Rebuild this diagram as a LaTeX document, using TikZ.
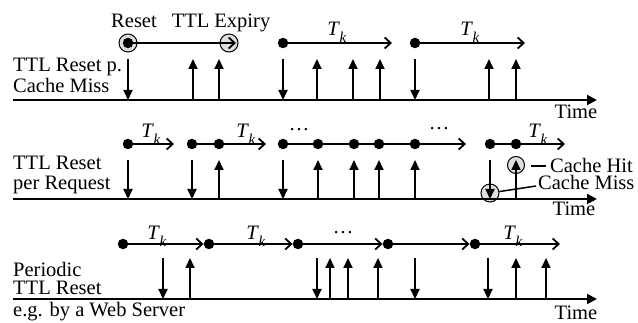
\documentclass[tikz,border=0pt]{standalone}
\usepackage{fontspec}
\setmainfont{Liberation Serif}
\usetikzlibrary{arrows.meta,calc}
\newcommand\Tk{\textit{T}\kern-0.3pt\raisebox{-0.34em}{\fontsize{15}{15}\selectfont\textit{k}}}
\begin{document}
\begin{tikzpicture}[x=1pt,y=-1pt, font=\fontsize{20.5}{24}\selectfont,
 axis/.style={line width=2pt,-{Triangle[length=10pt,width=10pt]}},
 tick/.style={line width=1.9pt,-{Triangle[length=10pt,width=9pt]}},
 seg/.style={line width=1.8pt,-{Straight Barb[length=6pt,width=11pt,line width=1.8pt]}},
 plain/.style={line width=1.8pt},
 thinl/.style={line width=1.5pt},
 dot/.style={circle,fill=black,inner sep=0pt,minimum size=10.5pt},
 ring/.style={circle,draw=black,fill=gray!25,line width=1pt,inner sep=0pt,minimum size=18pt},
 lbl/.style={inner sep=0pt,anchor=base west},
 clbl/.style={inner sep=0pt,anchor=base},
]
\useasboundingbox (0,0) rectangle (638,323);

% ---------- Row 1 ----------
\node[lbl] (row1a) at (13,72) {TTL Reset p.};
\node[lbl] (row1b) at (13,93) {Cache Miss};
\node[ring] (resetc) at (128,43) {};
\node[dot] (r1d1) at (128,43) {};
\node[ring] (expc) at (229,43) {};
\coordinate (r1e1) at (236,43);
\draw[seg] (r1d1) -- (r1e1);
\node[clbl] (resetlbl) at (134,28) {Reset};
\node[clbl] (explbl) at (221,28) {TTL Expiry};
\node[dot] (r1d2) at (283,43) {};
\coordinate (r1e2) at (392,43);
\draw[seg] (r1d2) -- (r1e2);
\node[clbl] (r1tk1) at (337,36) {\Tk};
\node[dot] (r1d3) at (415,43) {};
\coordinate (r1e3) at (525,43);
\draw[seg] (r1d3) -- (r1e3);
\node[clbl] (r1tk2) at (470,36) {\Tk};
\foreach \x [count=\i] in {128,283,415} {
  \coordinate (r1dt\i) at (\x,59); \coordinate (r1db\i) at (\x,100);
  \draw[tick] (r1dt\i) -- (r1db\i);}
\foreach \x [count=\i] in {193,219,317,353,380,489,516} {
  \coordinate (r1ub\i) at (\x,100); \coordinate (r1ut\i) at (\x,59);
  \draw[tick] (r1ub\i) -- (r1ut\i);}
\coordinate (ax1s) at (13,100); \coordinate (ax1e) at (597,100);
\draw[axis] (ax1s) -- (ax1e);
\node[clbl] (time1) at (576,119) {Time};

% ---------- Row 2 ----------
\node[lbl] (row2a) at (13,170) {TTL Reset};
\node[lbl] (row2b) at (13,190) {per Request};
\node[ring] (missc) at (490,193) {};
\node[ring,minimum size=17pt] (hitc) at (516,165) {};
\node[dot] (r2d1) at (128,144) {};
\coordinate (r2e1) at (174,144);
\draw[seg] (r2d1) -- (r2e1);
\node[clbl] (r2tk1) at (151,138) {\Tk};
\node[dot] (r2d2) at (192,144) {};
\node[dot] (r2d3) at (219,144) {};
\coordinate (r2e2) at (266,144);
\draw[plain] (r2d2) -- (r2d3);
\draw[seg] (r2d3) -- (r2e2);
\node[clbl] (r2tk2) at (246,138) {\Tk};
\node[dot] (r2d4) at (283,144) {};
\node[dot] (r2d5) at (318,144) {};
\node[dot] (r2d6) at (354,144) {};
\node[dot] (r2d7) at (379,144) {};
\node[dot] (r2d8) at (415,144) {};
\coordinate (r2e3) at (466,144);
\draw[plain] (r2d4) -- (r2d5) -- (r2d6) -- (r2d7) -- (r2d8);
\draw[seg] (r2d8) -- (r2e3);
\node[clbl] (r2dots1) at (299,131) {\ldots};
\node[clbl] (r2dots2) at (439,130) {\ldots};
\node[dot] (r2d9) at (490,144) {};
\node[dot] (r2d10) at (516,144) {};
\coordinate (r2e4) at (565,144);
\draw[plain] (r2d9) -- (r2d10);
\draw[seg] (r2d10) -- (r2e4);
\node[clbl] (r2tk3) at (538,138) {\Tk};
\foreach \x [count=\i] in {128,192,283,490} {
  \coordinate (r2dt\i) at (\x,160); \coordinate (r2db\i) at (\x,199);
  \draw[tick] (r2dt\i) -- (r2db\i);}
\foreach \x [count=\i] in {219,318,354,379,415,516} {
  \coordinate (r2ub\i) at (\x,199); \coordinate (r2ut\i) at (\x,160);
  \draw[tick] (r2ub\i) -- (r2ut\i);}
\coordinate (ax2s) at (13,199); \coordinate (ax2e) at (597,199);
\draw[axis] (ax2s) -- (ax2e);
\node[clbl] (time2) at (574,216) {Time};
\node[lbl] (hitlbl) at (550,173) {Cache Hit};
\node[lbl] (misslbl) at (538,190) {Cache Miss};
\coordinate (hitl1) at (531,166); \coordinate (hitl2) at (546,166);
\draw[thinl] (hitl1) -- (hitl2);
\coordinate (missl2) at (536,186);
\draw[thinl] (missc) -- (missl2);

% ---------- Row 3 ----------
\node[lbl] (row3a) at (13,277) {Periodic};
\node[lbl] (row3b) at (13,295) {TTL Reset};
\node[lbl] (row3c) at (13,317) {e.g. by a Web Server};
\node[dot] (r3d1) at (123,244) {};
\node[dot] (r3d2) at (209,244) {};
\node[dot] (r3d3) at (298,244) {};
\node[dot] (r3d4) at (388,244) {};
\node[dot] (r3d5) at (475,244) {};
\coordinate (r3e) at (560,244);
\draw[seg] (r3d1) -- (r3d2);
\draw[seg] (r3d2) -- (r3d3);
\draw[seg] (r3d3) -- (r3d4);
\draw[seg] (r3d4) -- (r3d5);
\draw[seg] (r3d5) -- (r3e);
\node[clbl] (r3tk1) at (157,240) {\Tk};
\node[clbl] (r3tk2) at (256,240) {\Tk};
\node[clbl] (r3tk3) at (513,240) {\Tk};
\node[clbl] (r3dots) at (343,234) {\ldots};
\foreach \x [count=\i] in {163,317,415,488} {
  \coordinate (r3dt\i) at (\x,258); \coordinate (r3db\i) at (\x,299);
  \draw[tick] (r3dt\i) -- (r3db\i);}
\foreach \x [count=\i] in {190,330,348,378,516,546} {
  \coordinate (r3ub\i) at (\x,299); \coordinate (r3ut\i) at (\x,258);
  \draw[tick] (r3ub\i) -- (r3ut\i);}
\coordinate (ax3s) at (13,299); \coordinate (ax3e) at (597,299);
\draw[axis] (ax3s) -- (ax3e);
\node[clbl] (time3) at (576,320) {Time};
\end{tikzpicture}
\end{document}
